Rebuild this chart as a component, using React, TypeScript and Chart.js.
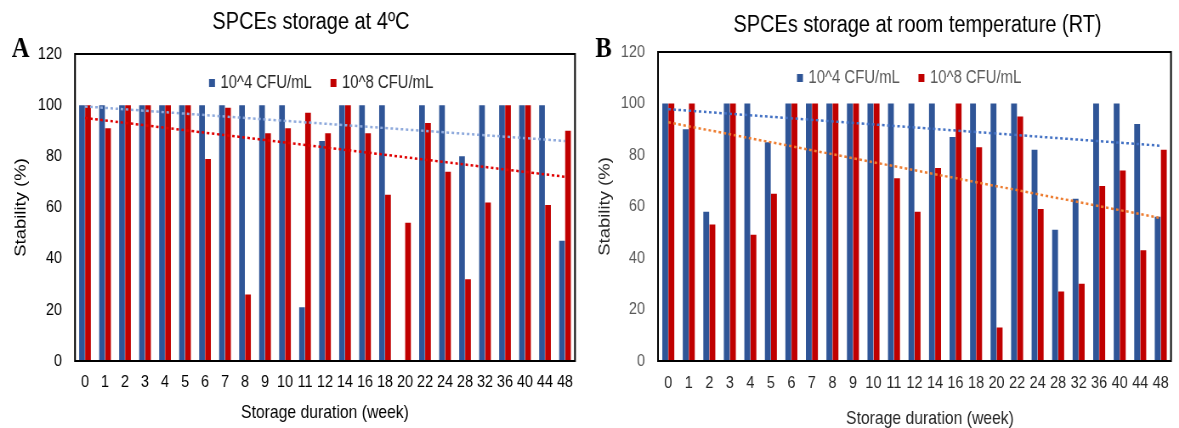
import React, { useEffect, useRef } from 'react';
import { Chart, registerables } from 'chart.js';

Chart.register(...registerables);

// ---------- data ----------
const weeks = ['0', '1', '2', '3', '4', '5', '6', '7', '8', '9', '10', '11', '12', '14', '16', '18', '20', '22', '24', '28', '32', '36', '40', '44', '48'];
const seriesLabels = ['10^4 CFU/mL', '10^8 CFU/mL'];

// Panel A: storage at 4ºC
const a4 = [100, 100, 100, 100, 100, 100, 100, 100, 100, 100, 100, 21, 86, 100, 100, 100, 0, 100, 100, 80, 100, 100, 100, 100, 47];
const a8 = [100, 91, 100, 100, 100, 100, 79, 99, 26, 89, 91, 97, 89, 100, 89, 65, 54, 93, 74, 32, 62, 100, 100, 61, 90];
const aTrend4 = [99.5, 86];
const aTrend8 = [95, 72];

// Panel B: storage at room temperature
const b4 = [100, 90, 58, 100, 100, 85, 100, 100, 100, 100, 100, 100, 100, 100, 87, 100, 100, 100, 82, 51, 63, 100, 100, 92, 56];
const b8 = [100, 100, 53, 100, 49, 65, 100, 100, 100, 100, 100, 71, 58, 75, 100, 83, 13, 95, 59, 27, 30, 68, 74, 43, 82];
const bTrend4 = [97.8, 83.6];
const bTrend8 = [92.7, 55.5];

const yMin = 0;
const yMax = 120;
const yStep = 20;

// ---------- styles ----------
const SANS = "'Liberation Sans', Arial, sans-serif";
const SERIF = "'Liberation Serif', 'Times New Roman', serif";
const BLUE = '#2F5597';
const RED = '#C00000';
const H = 428;
const SQUEEZE = 0.85; // the reference figure is horizontally compressed

type Panel = {
  left: number;
  width: number;
  plot: { l: number; r: number; t: number; b: number };
  letter: string;
  letterPos: [number, number];
  title: string;
  titlePos: [number, number];
  xTitlePos: [number, number];
  blue: number[];
  red: number[];
  trend4: number[];
  trend8: number[];
  trendColors: [string, string];
  yTickColor: string;
  xTickColor: string;
  legendColor: string;
  axisTitleColor: string;
  legendX: number;
  legendY: number;
  yTickPad: number;
  xTickPad: number;
  yTitleX: number;
};

// all x positions are page coordinates relative to the panel's left edge
const panels: Panel[] = [
  {
    left: 0,
    width: 590,
    plot: { l: 75, r: 575, t: 54, b: 361 },
    letter: 'A',
    letterPos: [20.5, 50],
    title: 'SPCEs storage at 4ºC',
    titlePos: [311, 23],
    xTitlePos: [325, 413],
    blue: a4,
    red: a8,
    trend4: aTrend4,
    trend8: aTrend8,
    trendColors: ['#8FAADC', '#E00000'],
    yTickColor: '#000000',
    xTickColor: '#000000',
    legendColor: '#262626',
    axisTitleColor: '#000000',
    legendX: 209,
    legendY: 83,
    yTickPad: 13,
    xTickPad: 11,
    yTitleX: 21,
  },
  {
    left: 590,
    width: 589,
    plot: { l: 68, r: 587, t: 52, b: 361 },
    letter: 'B',
    letterPos: [13.5, 50],
    title: 'SPCEs storage at room temperature (RT)',
    titlePos: [327.5, 26],
    xTitlePos: [340, 419],
    blue: b4,
    red: b8,
    trend4: bTrend4,
    trend8: bTrend8,
    trendColors: ['#4472C4', '#ED7D31'],
    yTickColor: '#595959',
    xTickColor: '#262626',
    legendColor: '#595959',
    axisTitleColor: '#262626',
    legendX: 207,
    legendY: 78,
    yTickPad: 13,
    xTickPad: 12,
    yTitleX: 15,
  },
];

const ends = (pair: number[]) =>
  weeks.map((_, i) => (i === 0 ? pair[0] : i === weeks.length - 1 ? pair[1] : null));

function makeConfig(p: Panel, s: number): any {
  const cx = (x: number) => x / s; // page x -> canvas x
  const framePlugin = {
    id: 'frame',
    afterDatasetsDraw(chart: any) {
      const { ctx, chartArea: a } = chart;
      ctx.save();
      ctx.strokeStyle = '#000';
      ctx.lineWidth = 2;
      ctx.strokeRect(a.left, a.top, a.right - a.left, a.bottom - a.top);
      ctx.restore();
    },
  };
  const textPlugin = {
    id: 'texts',
    afterDraw(chart: any) {
      const { ctx } = chart;
      ctx.save();
      ctx.textBaseline = 'middle';
      ctx.textAlign = 'center';
      // panel letter
      ctx.fillStyle = '#000';
      ctx.font = `bold 29px ${SERIF}`;
      ctx.fillText(p.letter, cx(p.letterPos[0]), p.letterPos[1]);
      // panel title
      ctx.font = `23.5px ${SANS}`;
      ctx.fillText(p.title, cx(p.titlePos[0]), p.titlePos[1]);
      // x axis title
      ctx.fillStyle = p.axisTitleColor;
      ctx.font = `18.5px ${SANS}`;
      ctx.fillText('Storage duration (week)', cx(p.xTitlePos[0]), p.xTitlePos[1]);
      // legend (bar datasets only)
      ctx.font = `17.5px ${SANS}`;
      ctx.textAlign = 'left';
      let x = cx(p.legendX);
      const bars = chart.data.datasets.filter((d: any) => d.type !== 'line');
      bars.forEach((d: any) => {
        ctx.fillStyle = d.backgroundColor;
        ctx.fillRect(x, p.legendY - 4, 7, 8);
        ctx.fillStyle = p.legendColor;
        ctx.fillText(d.label, x + 7 + 6.5, p.legendY);
        x = x + 7 + 6.5 + ctx.measureText(d.label).width + 22;
      });
      ctx.restore();
    },
  };

  const lineDs = (data: number[], color: string) => ({
    type: 'line',
    label: 'trend',
    data: ends(data),
    borderColor: color,
    borderWidth: 2.5,
    borderDash: [3, 3],
    pointRadius: 0,
    spanGaps: true,
    fill: false,
    order: 0,
  });
  const barDs = (label: string, data: number[], color: string) => ({
    type: 'bar',
    label,
    data,
    backgroundColor: color,
    borderWidth: 0,
    categoryPercentage: 0.6,
    barPercentage: 0.95,
    order: 1,
  });

  const fontLH = 18.5;
  return {
    type: 'bar',
    data: {
      labels: weeks,
      datasets: [
        lineDs(p.trend4, p.trendColors[0]),
        lineDs(p.trend8, p.trendColors[1]),
        barDs(seriesLabels[0], p.blue, BLUE),
        barDs(seriesLabels[1], p.red, RED),
      ],
    },
    options: {
      responsive: false,
      animation: false,
      layout: { padding: { left: 0, top: p.plot.t, right: cx(p.width - p.plot.r), bottom: 0 } },
      plugins: { legend: { display: false }, tooltip: { enabled: false } },
      scales: {
        x: {
          grid: { display: false, drawTicks: false },
          border: { display: false },
          ticks: {
            color: p.xTickColor,
            font: { family: SANS, size: 17 },
            padding: p.xTickPad,
            autoSkip: false,
            maxRotation: 0,
          },
          title: { display: false },
          afterFit: (sc: any) => {
            sc.height = H - p.plot.b;
          },
        },
        y: {
          min: yMin,
          max: yMax,
          grid: { display: false, drawTicks: false },
          border: { display: false },
          ticks: {
            stepSize: yStep,
            color: p.yTickColor,
            font: { family: SANS, size: 17 },
            padding: cx(p.yTickPad),
          },
          title: {
            display: true,
            text: 'Stability (%)',
            color: p.axisTitleColor,
            font: { family: SANS, size: fontLH, lineHeight: 1 },
            padding: { top: cx(p.yTitleX) - fontLH / 2, bottom: 0 },
          },
          afterFit: (sc: any) => {
            sc.width = cx(p.plot.l);
          },
        },
      },
    },
    plugins: [framePlugin, textPlugin],
  };
}

function PanelChart({ p }: { p: Panel }) {
  const ref = useRef<HTMLCanvasElement | null>(null);
  const cw = Math.round(p.width / SQUEEZE);
  const s = p.width / cw;
  useEffect(() => {
    if (!ref.current) return;
    const chart = new Chart(ref.current, makeConfig(p, s));
    return () => chart.destroy();
  }, [p, s]);
  return (
    <canvas
      ref={ref}
      width={cw}
      height={H}
      style={{
        position: 'absolute',
        left: p.left,
        top: 0,
        width: cw,
        height: H,
        transform: `scaleX(${s})`,
        transformOrigin: '0 0',
      }}
    />
  );
}

export default function App() {
  return (
    <div style={{ position: 'absolute', left: 0, top: 0, width: 1179, height: H, background: '#fff', overflow: 'hidden' }}>
      {panels.map((p) => (
        <PanelChart key={p.letter} p={p} />
      ))}
    </div>
  );
}
